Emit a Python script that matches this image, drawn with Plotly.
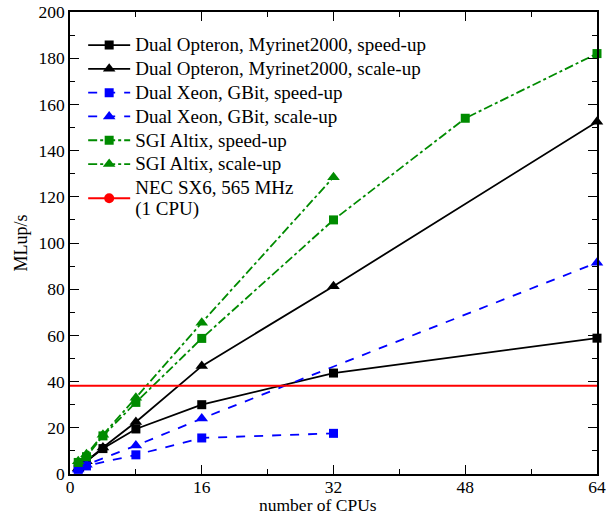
import plotly.graph_objects as go

# Data
opt_speed_x = [1, 2, 4, 8, 16, 32, 64]
opt_speed_y = [2.5, 5.5, 11, 19.5, 30, 43.7, 58.8]
opt_scale_x = [1, 2, 4, 8, 16, 32, 64]
opt_scale_y = [2.5, 5.5, 11.5, 22.5, 46.7, 81.3, 152.5]
xeon_speed_x = [1, 2, 8, 16, 32]
xeon_speed_y = [2, 3.5, 8.3, 15.6, 17.6]
xeon_scale_x = [1, 2, 8, 16, 64]
xeon_scale_y = [2, 4, 12.3, 24, 91.5]
sgi_speed_x = [1, 2, 4, 8, 16, 32, 48, 64]
sgi_speed_y = [5, 7.5, 16.5, 31, 58.7, 110, 154, 182]
sgi_scale_x = [1, 2, 4, 8, 16, 32]
sgi_scale_y = [5.5, 8.5, 17, 33, 65.5, 128.5]
nec_x = [0, 64]
nec_y = [38.2, 38.2]

BLACK = "#000000"
BLUE = "#0000ff"
GREEN = "#008b00"
RED = "#ff0000"
SERIF = "serif"


def big(s):
    return "<span style='font-size:19px'>" + s + "</span>"


fig = go.Figure()

def add(x, y, name, color, dash, symbol, size):
    fig.add_trace(go.Scatter(
        x=x, y=y, name=big(name), mode="lines+markers",
        line=dict(color=color, dash=dash, width=1.8),
        marker=dict(symbol=symbol, size=size, color=color),
        cliponaxis=False,
    ))

add(opt_speed_x, opt_speed_y, "Dual Opteron, Myrinet2000, speed-up", BLACK, "solid", "square", 9)
add(opt_scale_x, opt_scale_y, "Dual Opteron, Myrinet2000, scale-up", BLACK, "solid", "triangle-up", 11)
add(xeon_speed_x, xeon_speed_y, "Dual Xeon, GBit, speed-up", BLUE, "dash", "square", 9)
add(xeon_scale_x, xeon_scale_y, "Dual Xeon, GBit, scale-up", BLUE, "dash", "triangle-up", 11)
add(sgi_speed_x, sgi_speed_y, "SGI Altix, speed-up", GREEN, "dashdot", "square", 9)
add(sgi_scale_x, sgi_scale_y, "SGI Altix, scale-up", GREEN, "dashdot", "triangle-up", 11)

fig.add_trace(go.Scatter(
    x=nec_x, y=nec_y, mode="lines", showlegend=False,
    line=dict(color=RED, width=1.8),
))
fig.add_trace(go.Scatter(
    x=[None], y=[None], mode="lines+markers",
    name=big("NEC SX6, 565 MHz") + "<br>" + big("(1 CPU)"),
    line=dict(color=RED, width=1.8),
    marker=dict(symbol="circle", size=10, color=RED),
))

axis_common = dict(
    showline=True, linecolor="black", linewidth=1.5, mirror="ticks",
    ticks="inside", ticklen=9, tickwidth=1.2, tickcolor="black",
    showgrid=False, zeroline=False, automargin=False,
    tickfont=dict(family=SERIF, size=17.5, color="black"),
)

fig.update_xaxes(
    range=[0, 64], tickvals=[0, 16, 32, 48, 64], ticklabelstandoff=-4,
    minor=dict(tickvals=[8, 24, 40, 56], ticks="inside", ticklen=5, tickcolor="black", tickwidth=1.2),
    **axis_common,
)
fig.update_yaxes(
    range=[0, 200], tickvals=list(range(0, 201, 20)),
    minor=dict(tickvals=list(range(10, 200, 20)), ticks="inside", ticklen=5, tickcolor="black", tickwidth=1.2),
    title=dict(text="MLup/s", font=dict(family=SERIF, size=18, color="black"), standoff=6),
    **axis_common,
)

fig.add_annotation(
    text="number of CPUs", xref="paper", yref="paper", x=0.47, y=-0.093,
    xanchor="center", yanchor="bottom", showarrow=False,
    font=dict(family=SERIF, size=17.5, color="black"),
)

fig.update_layout(
    width=614, height=517,
    margin=dict(l=70, r=17, t=12, b=43),
    plot_bgcolor="white", paper_bgcolor="white",
    font=dict(family=SERIF, size=17, color="black"),
    legend=dict(
        x=0.025, y=0.965, xanchor="left", yanchor="top",
        bgcolor="rgba(0,0,0,0)", borderwidth=0,
        font=dict(family=SERIF, size=16, color="black"),
        tracegroupgap=0, itemwidth=42,
    ),
)

fig.write_html("out.html")
